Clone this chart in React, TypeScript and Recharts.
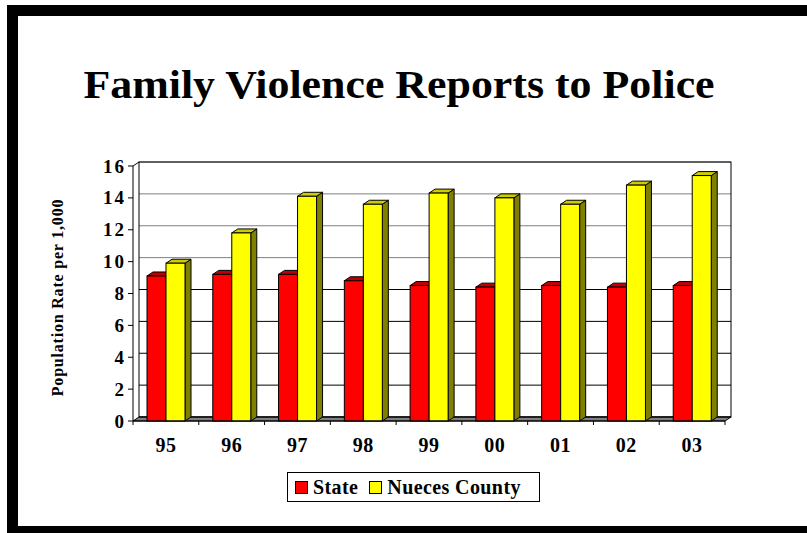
import { BarChart, Bar, XAxis, YAxis, CartesianGrid, ReferenceArea, Label } from 'recharts'

// Family violence reports to police, rate per 1,000 population
const YEARS = ['95', '96', '97', '98', '99', '00', '01', '02', '03']
const STATE = [9.1, 9.2, 9.2, 8.8, 8.5, 8.4, 8.5, 8.4, 8.5]
const NUECES = [9.9, 11.8, 14.1, 13.6, 14.3, 14.0, 13.6, 14.8, 15.4]
const Y_TICKS = [0, 2, 4, 6, 8, 10, 12, 14, 16]

const TITLE = 'Family Violence Reports to Police'
const Y_TITLE = 'Population Rate per 1,000'

const SERIES = [
	{ key: 'state', name: 'State', front: '#ff0000', top: '#c00000', side: '#800000' },
	{ key: 'nueces', name: 'Nueces County', front: '#ffff00', top: '#cccc00', side: '#808000' },
]

const data = YEARS.map((year, i) => ({ year, state: STATE[i], nueces: NUECES[i] }))

const FONT = '"Liberation Serif", "Times New Roman", serif'
// depth offset of the fake 3d
const DX = 6
const DY = 4

function Box3D(props: any) {
	const { x, y, width: w, height: h, colors } = props
	if (!w || !h) return null
	return (
		<g stroke="#000" strokeWidth={1}>
			<polygon
				points={`${x + w},${y} ${x + w + DX},${y - DY} ${x + w + DX},${y + h - DY} ${x + w},${y + h}`}
				fill={colors.side}
			/>
			<polygon
				points={`${x},${y} ${x + DX},${y - DY} ${x + w + DX},${y - DY} ${x + w},${y}`}
				fill={colors.top}
			/>
			<rect x={x} y={y} width={w} height={h} fill={colors.front} />
		</g>
	)
}

function Walls(props: any) {
	const { x, y, width, height } = props
	const bottom = y + height
	return (
		<g>
			<polygon
				points={`${x},${bottom} ${x + DX},${bottom - DY} ${x + width + DX},${bottom - DY} ${x + width},${bottom}`}
				fill="#808080"
				stroke="#000"
			/>
			<rect x={x + DX} y={y - DY} width={width} height={height} fill="none" stroke="#000" />
			<line x1={x} y1={y} x2={x + DX} y2={y - DY} stroke="#000" />
		</g>
	)
}

function gridLine(p: any) {
	const { x1, x2, y1 } = p
	const top = p.y ?? 166
	const h = p.height ?? 255
	const upper = y1 < top + h / 2 - 1
	return (
		<line
			key={`g-${y1}`}
			x1={x1 + DX}
			x2={x2 + DX}
			y1={y1 - DY}
			y2={y1 - DY}
			stroke={upper ? '#808080' : '#000'}
			strokeWidth={1}
		/>
	)
}

function XTick(props: any) {
	const { x, y, payload, index, visibleTicksCount, width } = props
	const half = payload.offset || width / visibleTicksCount / 2
	return (
		<g>
			<line x1={x - half} x2={x - half} y1={y} y2={y + 4} stroke="#000" />
			{index === visibleTicksCount - 1 && (
				<line x1={x + half} x2={x + half} y1={y} y2={y + 4} stroke="#000" />
			)}
			<text
				x={x}
				y={y + 31}
				textAnchor="middle"
				fontFamily={FONT}
				fontWeight="bold"
				fontSize={20}
				letterSpacing={0.5}
				fill="#000"
			>
				{payload.value}
			</text>
		</g>
	)
}

function YTick(props: any) {
	const { x, y, payload } = props
	return (
		<text
			x={x + 1}
			y={y}
			textAnchor="end"
			dominantBaseline="central"
			fontFamily={FONT}
			fontWeight="bold"
			fontSize={19}
			letterSpacing={2}
			fill="#000"
		>
			{payload.value}
		</text>
	)
}

function renderYTitle(props: any) {
	const { viewBox } = props
	const cx = viewBox.x - 16
	const cy = viewBox.y + viewBox.height / 2 + 4
	return (
		<text
			x={cx}
			y={cy}
			transform={`rotate(-90, ${cx}, ${cy})`}
			textAnchor="middle"
			dominantBaseline="central"
			fontFamily={FONT}
			fontWeight="bold"
			fontSize={16}
			letterSpacing={0.8}
			fill="#000"
		>
			{Y_TITLE}
		</text>
	)
}

export default function App() {
	return (
		<div
			style={{
				position: 'absolute',
				left: 0,
				top: 0,
				width: 807,
				height: 533,
				overflow: 'hidden',
				background: '#fff',
				fontFamily: FONT,
			}}
		>
			<div
				style={{
					position: 'absolute',
					left: 7,
					top: 5,
					width: 900,
					height: 532,
					border: '11px solid #000',
					boxSizing: 'border-box',
				}}
			/>
			<div
				style={{
					position: 'absolute',
					left: 0,
					top: 65,
					width: 798,
					textAlign: 'center',
					fontSize: 39,
					lineHeight: '39px',
					fontWeight: 'bold',
					color: '#000',
					transform: 'scaleX(1.125)',
					whiteSpace: 'nowrap',
				}}
			>
				{TITLE}
			</div>
			<div style={{ position: 'absolute', left: 0, top: 0 }}>
				<BarChart
					width={807}
					height={533}
					data={data}
					margin={{ top: 166, right: 82, bottom: 82, left: 73 }}
					barGap={0}
					barSize={19}
				>
					<ReferenceArea y1={0} y2={16} shape={<Walls />} ifOverflow="visible" />
					<CartesianGrid vertical={false} horizontal={gridLine} />
					<XAxis
						dataKey="year"
						height={30}
						interval={0}
						axisLine={{ stroke: '#000' }}
						tickLine={false}
						tickSize={0}
						tickMargin={0}
						tick={<XTick />}
					/>
					<YAxis
						width={60}
						domain={[0, 16]}
						ticks={Y_TICKS}
						interval={0}
						axisLine={{ stroke: '#000' }}
						tickLine={{ stroke: '#000' }}
						tickSize={5}
						tickMargin={3}
						tick={<YTick />}
					>
						<Label content={renderYTitle} />
					</YAxis>
					{SERIES.map((s) => (
						<Bar
							key={s.key}
							dataKey={s.key}
							name={s.name}
							fill={s.front}
							isAnimationActive={false}
							shape={(p: any) => <Box3D {...p} colors={s} />}
						/>
					))}
				</BarChart>
			</div>
			<div
				style={{
					position: 'absolute',
					left: 287,
					top: 472,
					width: 253,
					height: 30,
					border: '1px solid #000',
					boxSizing: 'border-box',
					display: 'flex',
					alignItems: 'center',
					paddingLeft: 7,
					fontSize: 20,
					fontWeight: 'bold',
					letterSpacing: 0.4,
					color: '#000',
					whiteSpace: 'nowrap',
				}}
			>
				{SERIES.map((s, i) => (
					<span
						key={s.key}
						style={{ display: 'flex', alignItems: 'center', marginLeft: i === 0 ? 0 : 11 }}
					>
						<span
							style={{
								display: 'inline-block',
								width: 13,
								height: 13,
								background: s.front,
								border: '1px solid #000',
								boxSizing: 'border-box',
								marginRight: 5,
							}}
						/>
						{s.name}
					</span>
				))}
			</div>
		</div>
	)
}
